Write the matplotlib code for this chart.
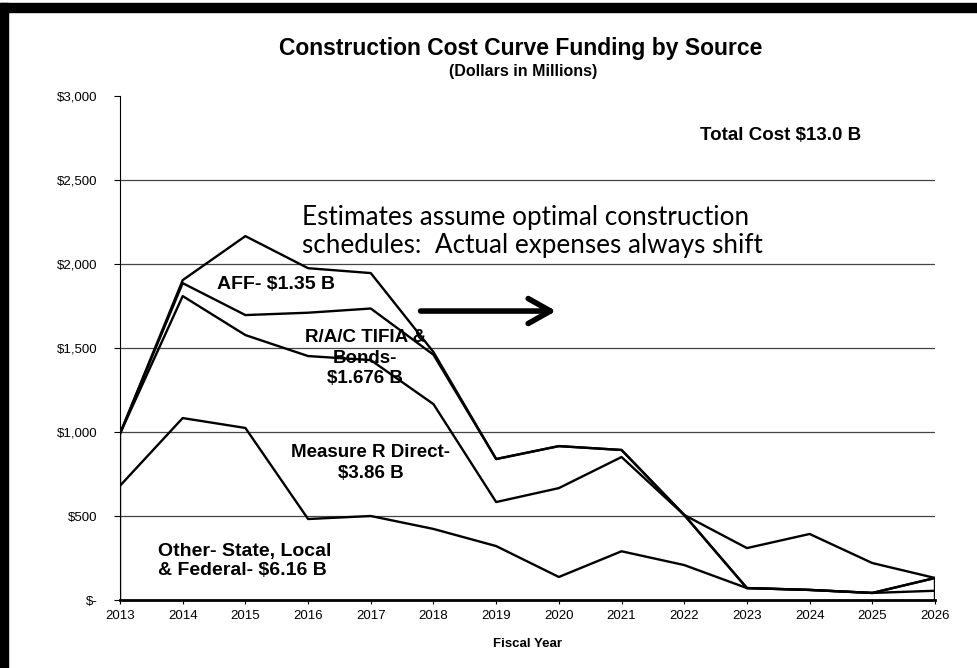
import matplotlib.pyplot as plt
from matplotlib.patches import Rectangle

plt.rcParams['font.family'] = ['Liberation Sans', 'DejaVu Sans']

# fiscal years and the cumulative (stacked) boundary of each funding source, $M
years = [2013, 2014, 2015, 2016, 2017, 2018, 2019, 2020, 2021, 2022, 2023, 2024, 2025, 2026]
other = [680, 1083, 1024, 482, 500, 423, 321, 137, 290, 208, 71, 60, 42, 55]
measure_r = [990, 1809, 1577, 1452, 1428, 1166, 583, 666, 851, 506, 71, 60, 42, 131]
rac_tifia = [990, 1886, 1696, 1710, 1735, 1460, 839, 916, 893, 506, 71, 60, 42, 131]
total = [990, 1904, 2166, 1975, 1946, 1476, 839, 916, 893, 506, 309, 393, 220, 131]

y_ticks = [0, 500, 1000, 1500, 2000, 2500, 3000]
y_labels = ['$-', '$500', '$1,000', '$1,500', '$2,000', '$2,500', '$3,000']

fig = plt.figure(figsize=(9.78, 6.68), dpi=100)
ax = fig.add_axes([120/978, 68/668, (935-120)/978, (600-96)/668])

# grid lines behind everything
for yv in y_ticks[1:-1]:
    ax.axhline(yv, color='#444444', lw=0.9, zorder=1)

for series in [other, measure_r, rac_tifia, total]:
    ax.plot(years, series, color='black', lw=1.7, zorder=3)

# the area outlines close at both ends
ax.vlines([years[0], years[-1]], 0, [total[0], total[-1]], color='black', lw=1.7, zorder=3)

ax.set_xlim(years[0], years[-1])
ax.set_ylim(0, 3000)
ax.set_xticks(years)
ax.set_xticklabels([str(y) for y in years], fontsize=9.5)
ax.set_yticks(y_ticks)
ax.set_yticklabels(y_labels, fontsize=9.5)
ax.tick_params(axis='y', length=4, width=0.8, pad=12)
ax.tick_params(axis='x', length=3, width=0.8, pad=4)

for side in ['top', 'right']:
    ax.spines[side].set_visible(False)
ax.spines['left'].set_linewidth(0.8)
ax.spines['bottom'].set_linewidth(2.0)

ax.set_xlabel('Fiscal Year', fontsize=9.5, fontweight='bold', labelpad=12)

fig.text(0.532, 0.928, 'Construction Cost Curve Funding by Source', ha='center', va='center',
         fontsize=16.5, fontweight='bold')
fig.text(0.535, 0.893, '(Dollars in Millions)', ha='center', va='center', fontsize=11.5, fontweight='bold')

# in-chart notes
ax.text(2023.54, 2767, 'Total Cost $13.0 B', ha='center', va='center', fontsize=13.5, fontweight='bold')
ax.text(2015.9, 2196, 'Estimates assume optimal construction\nschedules:  Actual expenses always shift',
        ha='left', va='center', fontsize=18.8, family=['Lato', 'DejaVu Sans'], linespacing=1.15)
ax.annotate('', xy=(2020.0, 1720), xytext=(2017.75, 1720),
            arrowprops=dict(arrowstyle='->,head_length=1.6,head_width=0.9', lw=4, color='black'))
ax.text(2014.55, 1880, 'AFF- $1.35 B', ha='left', va='center', fontsize=14, fontweight='bold')
ax.text(2016.91, 1440, 'R/A/C TIFIA &\nBonds-\n$1.676 B', ha='center', va='center', fontsize=13.5,
        fontweight='bold', linespacing=1.25)
ax.text(2017.0, 815, 'Measure R Direct-\n$3.86 B', ha='center', va='center', fontsize=13.5,
        fontweight='bold', linespacing=1.25)
ax.text(2013.6, 232, 'Other- State, Local\n& Federal- $6.16 B', ha='left', va='center', fontsize=14,
        fontweight='bold', linespacing=1.2)

# scanned frame on the top and left edges
fig.patches.append(Rectangle((0, 656), 978, 9, transform=None, color='black', zorder=10))
fig.patches.append(Rectangle((0, 0), 8, 665, transform=None, color='black', zorder=10))

fig.savefig('out.png', dpi=100, facecolor='white')
